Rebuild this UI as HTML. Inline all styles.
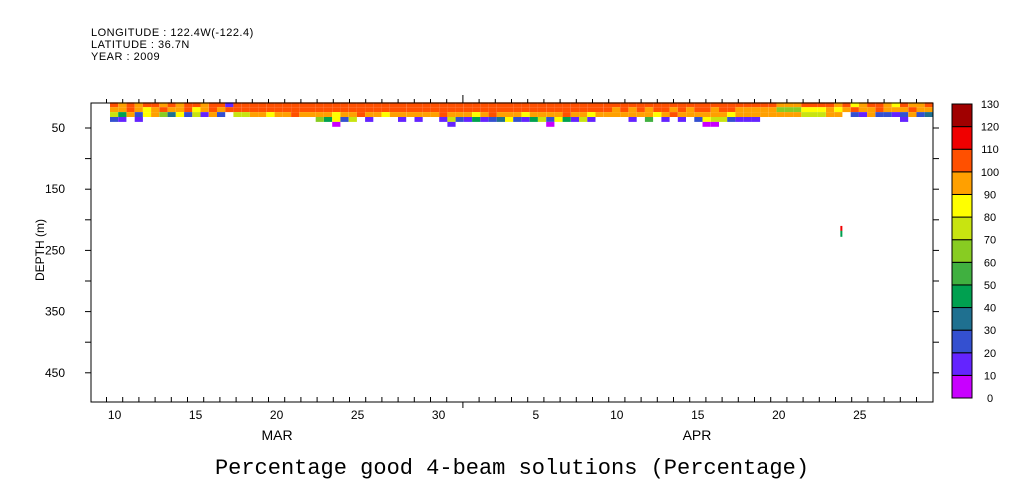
<!DOCTYPE html>
<html><head><meta charset="utf-8"><style>
body{margin:0;background:#fff;width:1009px;height:504px;overflow:hidden}
svg{display:block}
text{font-family:"Liberation Sans",sans-serif}
</style></head><body>
<svg id="chart" width="1009" height="504" viewBox="0 0 1009 504" xmlns="http://www.w3.org/2000/svg">
<g font-size="11" fill="#000" letter-spacing="0.5">
<text x="91" y="36">LONGITUDE : 122.4W(-122.4)</text>
<text x="91" y="48">LATITUDE : 36.7N</text>
<text x="91" y="60">YEAR : 2009</text>
</g>
<g id="cells"></g>
<g id="axes"></g>
<g id="cbar"></g>
<text x="44" y="250" transform="rotate(-90 44 250)" text-anchor="middle" font-size="12">DEPTH (m)</text>
<text x="277" y="440" text-anchor="middle" font-size="14">MAR</text>
<text x="697" y="440" text-anchor="middle" font-size="14">APR</text>
<text x="512" y="474" text-anchor="middle" font-size="22" style="font-family:'Liberation Mono',monospace">Percentage good 4-beam solutions (Percentage)</text>
</svg>
<script>
// time: samples starting day 10.25 (day number since Mar 1; Apr 1 = 32)
const binDepths = [12, 20, 28, 36, 44];
const row1 = [100,95,105,90,100,105,95,100,90,105,100,95,105,100,15,105,105,100,105,105,105,105,100,105,105,105,105,105,105,100,105,105,105,105,105,105,105,100,105,105,105,105,105,105,105,105,105,105,105,105,105,105,105,105,105,105,105,105,105,105,105,105,105,105,105,100,105,105,105,105,105,105,105,105,105,105,105,105,105,105,105,95,95,95,105,105,105,105,95,100,85,95,105,100,95,85,100,95,95,100];
const row2 = [95,90,100,95,85,95,100,90,95,100,85,95,100,95,105,105,105,105,105,105,105,105,105,105,105,105,105,105,105,105,105,105,105,105,105,105,105,105,105,105,105,105,105,105,105,105,105,105,105,105,105,105,105,105,105,105,105,105,105,105,105,95,105,90,105,95,105,105,95,105,90,105,105,95,105,105,95,95,95,95,95,65,65,65,85,85,85,95,85,95,100,95,95,100,95,90,95,100,95,95];
const row3 = [70,40,95,25,80,95,60,30,85,20,75,15,95,20,null,75,75,95,95,85,95,95,100,95,90,95,95,85,95,95,105,95,95,85,95,95,95,90,95,95,105,95,95,95,85,95,100,95,95,95,85,95,95,95,95,100,95,95,85,95,95,95,90,95,95,95,85,95,105,95,95,90,95,95,95,85,95,95,95,95,95,95,95,95,75,75,75,90,90,null,25,15,95,25,20,15,25,95,25,30];
const row4 = [25,15,null,10,null,null,null,null,null,null,null,null,null,null,null,null,null,null,null,null,null,null,null,null,null,60,45,80,25,70,null,10,null,null,null,10,null,10,null,null,10,70,25,10,40,15,20,30,85,25,10,40,70,25,80,45,10,75,15,null,null,null,null,10,null,50,null,10,null,10,null,20,80,75,70,25,10,10,10,null,null,null,null,null,null,null,null,null,null,null,null,null,null,null,null,null,10,null,null,null];
const row5 = [null,null,null,null,null,null,null,null,null,null,null,null,null,null,null,null,null,null,null,null,null,null,null,null,null,null,null,5,null,null,null,null,null,null,null,null,null,null,null,null,null,15,null,null,null,null,null,null,null,null,null,null,null,5,null,null,null,null,null,null,null,null,null,null,null,null,null,null,null,null,null,null,5,5,null,null,null,null,null,null,null,null,null,null,null,null,null,null,null,null,null,null,null,null,null,null,null,null,null,null];
const rows = [row1,row2,row3,row4,row5];
const startDay = 10.47, stepDay = 0.508;
const levels = [0,10,20,30,40,50,60,70,80,90,100,110,120,130];
const levelColors = ["#c800ff","#6424ff","#3450d0","#1f7090","#00a050","#40b040","#88cc22","#c8e410","#ffff00","#ffa000","#ff5000","#f00000","#a00000"];
const depthTicks = [50,150,250,350,450];
const dayLabels = [10,15,20,25,30,36,41,46,51,56];
const dayLabelText = ["10","15","20","25","30","5","10","15","20","25"];

const NS="http://www.w3.org/2000/svg";
const X0=91,X1=933,Y0=103,Y1=402;
const xOf=d=>106.5+(d-10)*16.2;
const yOf=m=>128+(m-50)*0.612;
function colorOf(v){let i=Math.min(12,Math.max(0,Math.floor(v/10)));return levelColors[i];}
function mk(tag,attrs,parent){const e=document.createElementNS(NS,tag);for(const k in attrs)e.setAttribute(k,attrs[k]);parent.appendChild(e);return e;}
const cells=document.getElementById('cells');
rows.forEach((r,ri)=>{r.forEach((v,i)=>{if(v===null)return;
 const d=startDay+i*stepDay;const x=xOf(d-stepDay/2),x2=Math.min(X1,xOf(d+stepDay/2));
 const y=yOf(binDepths[ri]-4),y2=yOf(binDepths[ri]+4);
 const c=mk('rect',{x:x.toFixed(1),y:y.toFixed(1),width:(x2-x).toFixed(1),height:(y2-y).toFixed(1),fill:colorOf(v)},cells);
 
 
});});
// isolated sample near Apr 24
const iso1=mk('rect',{x:xOf(55.3),y:yOf(210),width:2,height:5,fill:"#f00000"},cells);


const iso2=mk('rect',{x:xOf(55.3),y:yOf(218),width:2,height:6,fill:"#00a050"},cells);



const ax=document.getElementById('axes');
const frame=mk('rect',{x:X0,y:Y0,width:X1-X0,height:Y1-Y0,fill:"none",stroke:"#000","stroke-width":1},ax);


for(let m=50;m<=450;m+=50){const y=yOf(m);
 mk('line',{x1:X0-6,y1:y,x2:X0,y2:y,stroke:"#000"},ax);
 mk('line',{x1:X1,y1:y,x2:X1+6,y2:y,stroke:"#000"},ax);}
depthTicks.forEach(m=>{const t=mk('text',{x:65,y:yOf(m)+4,"text-anchor":"end","font-size":12},ax);t.textContent=m;
 
 });
for(let d=9;d<=60;d++){const x=xOf(d);if(x<X0||x>X1)continue;const big=(d===32);
 mk('line',{x1:x,y1:Y1,x2:x,y2:big?Y1+6:Y1-5,stroke:"#000"},ax);
 mk('line',{x1:x,y1:Y0,x2:x,y2:big?Y0-8:Y0-4,stroke:"#000"},ax);}
dayLabels.forEach((d,i)=>{const t=mk('text',{x:xOf(d+0.5),y:419,"text-anchor":"middle","font-size":12},ax);t.textContent=dayLabelText[i];
 
 });

const cb=document.getElementById('cbar');
const cbTop=104,cbBot=398,cbH=(cbBot-cbTop)/13;
levelColors.forEach((c,i)=>{const y=cbBot-(i+1)*cbH;
 const r=mk('rect',{x:952,y:y,width:20,height:cbH,fill:c,stroke:"#000","stroke-width":1},cb);
 
 });
levels.forEach((v,i)=>{const t=mk('text',{x:990,y:cbBot-i*cbH+4,"text-anchor":"middle","font-size":11},cb);t.textContent=v;
 
 });
</script>
</body></html>
